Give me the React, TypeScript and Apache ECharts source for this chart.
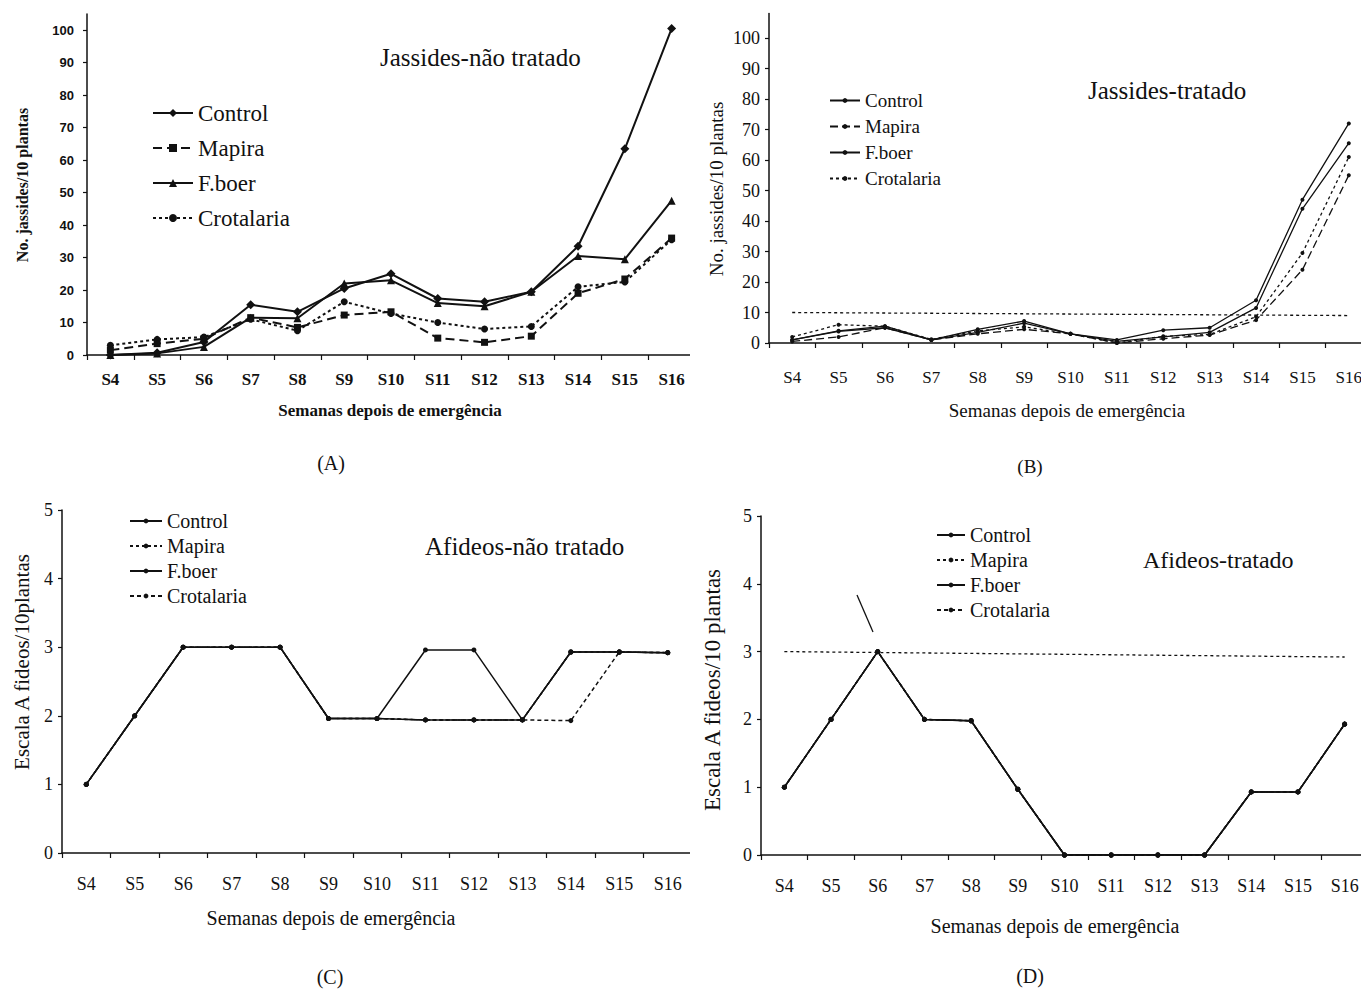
import React, { useEffect, useRef } from "react";
import * as echarts from "echarts";

// ---------- shared categories ----------
const weeks = ["S4", "S5", "S6", "S7", "S8", "S9", "S10", "S11", "S12", "S13", "S14", "S15", "S16"];
const seriesNames = ["Control", "Mapira", "F.boer", "Crotalaria"];

// ---------- (A) Jassides - não tratado ----------
const jassNaoControl = [0, 0.7, 4, 15.5, 13.3, 20.5, 25, 17.4, 16.4, 19.5, 33.5, 63.5, 100.5];
const jassNaoMapira = [1.5, 3.5, 5, 11.5, 8.5, 12.3, 13.3, 5.2, 3.9, 5.8, 19, 23.4, 36];
const jassNaoFboer = [0, 0.5, 2.5, 11.5, 11.3, 22, 23, 16, 15, 19.5, 30.5, 29.5, 47.5];
const jassNaoCrotalaria = [3, 4.8, 5.5, 11, 7.5, 16.4, 12.8, 10, 8, 8.8, 21, 22.5, 35.5];

// ---------- (B) Jassides - tratado ----------
const jassTratControl = [1, 4, 5.5, 1, 4.5, 7.2, 3, 1, 4.2, 5, 14, 47, 72];
const jassTratMapira = [0.5, 2, 5, 1, 3, 4.5, 3, 0, 1.4, 2.6, 7.5, 24, 55];
const jassTratFboer = [1, 3.8, 5, 1, 3.5, 6.5, 3, 0.5, 2, 3.5, 11.5, 44, 65.5];
const jassTratCrotalaria = [2, 6, 5.5, 1.2, 4, 5.3, 3, 0, 2.2, 2.8, 8.6, 29.5, 61];
const jassTratThreshold = [10, 9];

// ---------- (C) Afideos - não tratado ----------
const afiNaoControl = [1, 2, 3, 3, 3, 1.96, 1.96, 2.96, 2.96, 1.94, 2.93, 2.93, 2.92];
const afiNaoMapira = [1, 2, 3, 3, 3, 1.96, 1.96, 1.94, 1.94, 1.94, 2.93, 2.93, 2.92];
const afiNaoFboer = [1, 2, 3, 3, 3, 1.96, 1.96, 1.94, 1.94, 1.94, 2.93, 2.93, 2.92];
const afiNaoCrotalaria = [1, 2, 3, 3, 3, 1.96, 1.96, 1.94, 1.94, 1.94, 1.93, 2.93, 2.92];

// ---------- (D) Afideos - tratado ----------
const afiTratControl = [1, 2, 3, 2, 1.98, 0.97, 0, 0, 0, 0, 0.93, 0.93, 1.93];
const afiTratMapira = [1, 2, 3, 2, 1.98, 0.97, 0, 0, 0, 0, 0.93, 0.93, 1.93];
const afiTratFboer = [1, 2, 3, 2, 1.98, 0.97, 0, 0, 0, 0, 0.93, 0.93, 1.93];
const afiTratCrotalaria = [1, 2, 3, 2, 1.98, 0.97, 0, 0, 0, 0, 0.93, 0.93, 1.93];
const afiTratThreshold = [3, 2.92];

const SERIF = '"Liberation Serif", "Times New Roman", serif';
const SANS = '"Liberation Sans", Arial, sans-serif';
const INK = "#111";

type St = { symbol: string; size: number; dash: any };

function mkSeries(datas: number[][], styles: St[], width: number) {
  return datas.map((d, i) => ({
    type: "line",
    name: seriesNames[i],
    data: d,
    symbol: styles[i].symbol,
    symbolSize: styles[i].size,
    showAllSymbol: true,
    lineStyle: { color: INK, width, type: styles[i].dash },
    itemStyle: { color: INK },
    emphasis: { disabled: true },
    silent: true,
    z: 10 - i,
  }));
}

function thresholdSeries(vals: number[]) {
  return {
    type: "line",
    name: "limiar",
    data: [],
    silent: true,
    markLine: {
      silent: true,
      symbol: ["none", "none"],
      label: { show: false },
      lineStyle: { color: INK, width: 1.3, type: [3, 3] },
      data: [[{ coord: [weeks[0], vals[0]] }, { coord: [weeks[weeks.length - 1], vals[1]] }]],
    },
  };
}

type PanelCfg = {
  grid: any;
  yMax: number;
  yInterval: number;
  yLabel: any;
  xLabel: any;
  legend: any;
  series: any[];
  graphic: any[];
};

function buildOption(c: PanelCfg) {
  return {
    animation: false,
    grid: c.grid,
    xAxis: {
      type: "category",
      data: weeks,
      boundaryGap: true,
      axisLine: { lineStyle: { color: INK, width: 1.5 } },
      axisTick: { show: true, length: 5, lineStyle: { color: INK, width: 1.2 } },
      axisLabel: { interval: 0, color: INK, ...c.xLabel },
      splitLine: { show: false },
    },
    yAxis: {
      type: "value",
      min: 0,
      max: c.yMax,
      interval: c.yInterval,
      axisLine: { show: true, lineStyle: { color: INK, width: 1.5 } },
      axisTick: { show: true, length: 4, lineStyle: { color: INK, width: 1.2 } },
      axisLabel: {
        color: INK,
        showMaxLabel: c.yMax % c.yInterval === 0,
        ...c.yLabel,
      },
      splitLine: { show: false },
    },
    legend: {
      orient: "vertical",
      selectedMode: false,
      data: seriesNames,
      textStyle: { color: INK, fontFamily: SERIF },
      ...c.legend,
    },
    series: c.series,
    graphic: c.graphic,
  };
}

function txt(text: string, x: number, y: number, fontSize: number, opts: any = {}) {
  return {
    type: "text",
    x,
    y,
    rotation: opts.rotation || 0,
    silent: true,
    style: {
      text,
      fill: INK,
      fontSize,
      fontFamily: opts.fontFamily || SERIF,
      fontWeight: opts.fontWeight || "normal",
      align: opts.align || "center",
      verticalAlign: "middle",
    },
  };
}

const optA = buildOption({
  grid: { left: 87, top: 14, width: 608, height: 341 },
  yMax: 105,
  yInterval: 10,
  yLabel: { fontFamily: SANS, fontWeight: "bold", fontSize: 13, margin: 13 },
  xLabel: { fontFamily: SERIF, fontWeight: "bold", fontSize: 17, margin: 16 },
  legend: {
    left: 147,
    top: 96,
    itemWidth: 40,
    itemHeight: 10,
    itemGap: 11,
    textStyle: { color: INK, fontFamily: SERIF, fontSize: 23, lineHeight: 24 },
  },
  series: mkSeries(
    [jassNaoControl, jassNaoMapira, jassNaoFboer, jassNaoCrotalaria],
    [
      { symbol: "diamond", size: 9, dash: "solid" },
      { symbol: "rect", size: 7, dash: [9, 5] },
      { symbol: "triangle", size: 8, dash: "solid" },
      { symbol: "circle", size: 7, dash: [3, 3] },
    ],
    2
  ),
  graphic: [
    txt("Jassides-não tratado", 380, 57, 25, { align: "left" }),
    txt("Semanas depois de emergência", 390, 410, 17, { fontWeight: "bold" }),
    txt("No. jassides/10 plantas", 22, 185, 16, { fontWeight: "bold", rotation: Math.PI / 2 }),
    txt("(A)", 331, 463, 20),
  ],
});

const optB = buildOption({
  grid: { left: 79, top: 13.6, width: 603, height: 329.4 },
  yMax: 108,
  yInterval: 10,
  yLabel: { fontFamily: SERIF, fontSize: 18, margin: 9 },
  xLabel: { fontFamily: SERIF, fontSize: 17, margin: 26 },
  legend: {
    left: 134,
    top: 86,
    itemWidth: 30,
    itemHeight: 6,
    itemGap: 7,
    textStyle: { color: INK, fontFamily: SERIF, fontSize: 19, lineHeight: 19 },
  },
  series: [
    ...mkSeries(
      [jassTratControl, jassTratMapira, jassTratFboer, jassTratCrotalaria],
      [
        { symbol: "circle", size: 4, dash: "solid" },
        { symbol: "circle", size: 4, dash: [8, 4] },
        { symbol: "circle", size: 4, dash: "solid" },
        { symbol: "circle", size: 4, dash: [3, 3] },
      ],
      1.3
    ),
    thresholdSeries(jassTratThreshold),
  ],
  graphic: [
    txt("Jassides-tratado", 398, 90, 25, { align: "left" }),
    txt("Semanas depois de emergência", 377, 410, 19),
    txt("No. jassides/10 plantas", 26, 189, 19, { rotation: Math.PI / 2 }),
    txt("(B)", 340, 466, 19),
  ],
});

const optC = buildOption({
  grid: { left: 62, top: 20, width: 630, height: 343 },
  yMax: 5,
  yInterval: 1,
  yLabel: { fontFamily: SERIF, fontSize: 18, margin: 9 },
  xLabel: { fontFamily: SERIF, fontSize: 18, margin: 22 },
  legend: {
    left: 124,
    top: 16,
    itemWidth: 32,
    itemHeight: 6,
    itemGap: 5,
    textStyle: { color: INK, fontFamily: SERIF, fontSize: 20, lineHeight: 20 },
  },
  series: mkSeries(
    [afiNaoControl, afiNaoMapira, afiNaoFboer, afiNaoCrotalaria],
    [
      { symbol: "circle", size: 5, dash: "solid" },
      { symbol: "circle", size: 5, dash: [3, 3] },
      { symbol: "circle", size: 5, dash: "solid" },
      { symbol: "circle", size: 5, dash: [4, 3] },
    ],
    1.5
  ),
  graphic: [
    txt("Afideos-não tratado", 425, 56, 25, { align: "left" }),
    txt("Semanas depois de emergência", 331, 428, 20),
    txt("Escala A fideos/10plantas", 22, 172, 21, { rotation: Math.PI / 2 }),
    txt("(C)", 330, 487, 20),
  ],
});

const optD = buildOption({
  grid: { left: 71, top: 26, width: 607, height: 339 },
  yMax: 5,
  yInterval: 1,
  yLabel: { fontFamily: SERIF, fontSize: 18, margin: 9 },
  xLabel: { fontFamily: SERIF, fontSize: 18, margin: 22 },
  legend: {
    left: 241,
    top: 30,
    itemWidth: 28,
    itemHeight: 6,
    itemGap: 5,
    textStyle: { color: INK, fontFamily: SERIF, fontSize: 20, lineHeight: 20 },
  },
  series: [
    ...mkSeries(
      [afiTratControl, afiTratMapira, afiTratFboer, afiTratCrotalaria],
      [
        { symbol: "circle", size: 5, dash: "solid" },
        { symbol: "circle", size: 5, dash: [3, 3] },
        { symbol: "circle", size: 5, dash: "solid" },
        { symbol: "circle", size: 5, dash: [4, 3] },
      ],
      1.5
    ),
    thresholdSeries(afiTratThreshold),
  ],
  graphic: [
    txt("Afideos-tratado", 453, 70, 24, { align: "left" }),
    txt("Semanas depois de emergência", 365, 436, 20),
    txt("Escala A fideos/10 plantas", 22, 200, 23, { rotation: Math.PI / 2 }),
    txt("(D)", 340, 486, 20),
    {
      type: "line",
      silent: true,
      shape: { x1: 167, y1: 105, x2: 183, y2: 142 },
      style: { stroke: INK, lineWidth: 1.3 },
    },
  ],
});

// clipW/clipH: visible window; chartW: drawing surface (wider so that the axis keeps its full length)
const panels = [
  { left: 0, top: 0, clipW: 690, height: 490, chartW: 710, option: optA },
  { left: 690, top: 0, clipW: 671, height: 490, chartW: 700, option: optB },
  { left: 0, top: 490, clipW: 690, height: 501, chartW: 710, option: optC },
  { left: 690, top: 490, clipW: 671, height: 501, chartW: 700, option: optD },
];

function Panel(p: { left: number; top: number; clipW: number; height: number; chartW: number; option: any }) {
  const ref = useRef<HTMLDivElement>(null);
  useEffect(() => {
    if (!ref.current) return;
    const chart = echarts.init(ref.current, undefined, { renderer: "svg" });
    chart.setOption(p.option);
    return () => chart.dispose();
  }, []);
  return (
    <div
      style={{
        position: "absolute",
        left: p.left,
        top: p.top,
        width: p.clipW,
        height: p.height,
        overflow: "hidden",
      }}
    >
      <div ref={ref} style={{ position: "absolute", left: 0, top: 0, width: p.chartW, height: p.height }} />
    </div>
  );
}

export default function App() {
  return (
    <div style={{ position: "absolute", left: 0, top: 0, width: 1361, height: 991, background: "#fff", overflow: "hidden" }}>
      {panels.map((p, i) => (
        <Panel key={i} {...p} />
      ))}
    </div>
  );
}
